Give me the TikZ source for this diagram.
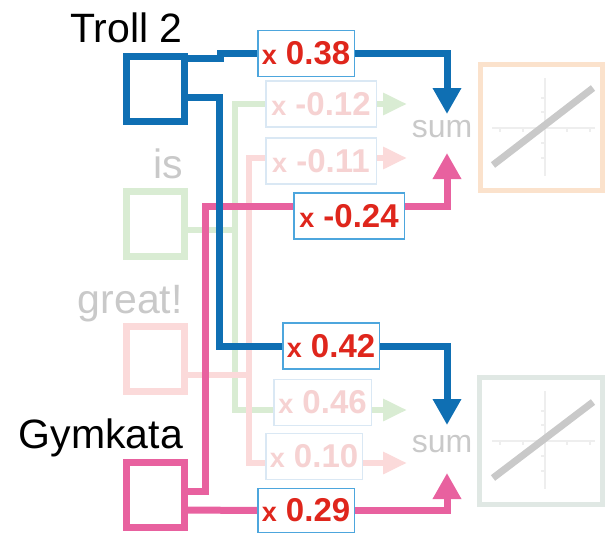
\documentclass[tikz,border=0pt]{standalone}
\usepackage{fontspec}
\setmainfont{Liberation Sans}
\usetikzlibrary{arrows.meta}

\definecolor{tblue}{HTML}{0F6FB3}
\definecolor{tpink}{HTML}{E8619F}
\definecolor{wred}{HTML}{DF261C}
\definecolor{wborder}{HTML}{4DA6DD}
\definecolor{fgreen}{HTML}{D9ECD3}
\definecolor{fpink}{HTML}{FBDADA}
\definecolor{ftext}{HTML}{F6D2D2}
\definecolor{fborder}{HTML}{DAE8F4}
\definecolor{lgray}{HTML}{C9C9C9}
\definecolor{frameA}{HTML}{FBE2CC}
\definecolor{frameB}{HTML}{E0E8E4}
\definecolor{axisc}{HTML}{EEEEEE}

\pgfdeclarelayer{wires}
\pgfsetlayers{wires,main}

\newcommand{\mulx}{{\fontsize{27}{27}\selectfont x}}

\tikzset{
  word/.style={anchor=base east, font=\fontsize{41}{43}\selectfont, inner sep=0pt},
  inbox/.style={draw, line width=7pt, minimum width=58pt, minimum height=65pt,
                inner sep=0pt, outer sep=0pt},
  wbox/.style={draw=wborder, fill=white, line width=1.5pt, minimum height=46pt,
               inner sep=0pt, outer sep=0pt, text=wred,
               font=\bfseries\fontsize{33}{33}\selectfont},
  fbox/.style={wbox, draw=fborder, text=ftext},
  bwire/.style={line width=7pt},
  fwire/.style={line width=6pt},
  bhead/.style={-{Triangle[length=26pt,width=27pt]}},
  fhead/.style={-{Triangle[length=24pt,width=21pt]}},
  sumtext/.style={anchor=base, text=lgray, font=\fontsize{32}{34}\selectfont, inner sep=0pt},
  actframe/.style={draw, line width=5pt, inner sep=0pt, outer sep=0pt},
  axis/.style={draw=axisc, line width=1.5pt},
  ramp/.style={draw=lgray, line width=7pt}
}

\begin{document}
\begin{tikzpicture}[x=1pt,y=-1pt]
\useasboundingbox (0,0) rectangle (606,536);

% input words
\node[word] (lblA) at (183,42) {Troll 2};
\node[word, text=lgray] (lblB) at (183,178) {is};
\node[word, text=lgray] (lblC) at (183,313) {great!};
\node[word] (lblD) at (183,448) {Gymkata};

% input boxes
\node[inbox, draw=tblue] (troll) at (155.5,89) {};
\node[inbox, draw=fgreen] (isbox) at (155.5,224) {};
\node[inbox, draw=fpink] (great) at (155.5,359) {};
\node[inbox, draw=tpink] (gym) at (155.5,495) {};

% weights
\node[wbox, minimum width=96.5pt] (w038) at (306,53.5) {\mulx{} 0.38};
\node[fbox, minimum width=110.5pt] (w012) at (321,104) {\mulx{} -0.12};
\node[fbox, minimum width=110.5pt] (w011) at (321,161) {\mulx{} -0.11};
\node[wbox, minimum width=110.5pt] (w024) at (349,216) {\mulx{} -0.24};
\node[wbox, minimum width=96.5pt] (w042) at (331,346) {\mulx{} 0.42};
\node[fbox, minimum width=97.5pt] (w046) at (322.5,402.5) {\mulx{} 0.46};
\node[fbox, minimum width=96.5pt] (w010) at (314,456.5) {\mulx{} 0.10};
\node[wbox, minimum width=96.5pt, minimum height=44pt] (w029) at (306,510.5) {\mulx{} 0.29};

% sums
\node[sumtext] (sumA) at (442,137) {sum};
\node[sumtext] (sumB) at (442,452) {sum};

% arrow end points in front of the sums
\coordinate (tA1) at (447,114);
\coordinate (tA2) at (447,153);
\coordinate (tB1) at (447,425);
\coordinate (tB2) at (447,473);
\coordinate (gA) at (407,104);
\coordinate (pA) at (407,158);
\coordinate (gB) at (407,410);
\coordinate (pB) at (407,463);

% activation panels
\node[actframe, draw=frameA, minimum width=122pt, minimum height=126pt] (actA) at (541.5,127.5) {};
\node[actframe, draw=frameB, minimum width=123pt, minimum height=127pt] (actB) at (541,441) {};

\foreach \yo in {0,313}{
  \draw[axis] (492,128+\yo) -- (595,128+\yo);
  \draw[axis] (545,78+\yo) -- (545,176+\yo);
  \foreach \tx in {500,523,567,590} \draw[axis] (\tx,128+\yo) -- (\tx,132+\yo);
  \foreach \ty in {98,112,143,158} \draw[axis] (545,\ty+\yo) -- (541,\ty+\yo);
}
\draw[ramp] (493,165) -- (593,88);
\draw[ramp] (493,478) -- (593,402);

\begin{pgfonlayer}{wires}
  % "is" branch
  \draw[fwire, fgreen] ([yshift=-6pt]isbox.east) -- (235,230);
  \draw[fwire, fgreen] (w012.west) -| (235,410) -- ([yshift=-7.5pt]w046.west);
  \draw[fwire, fgreen, fhead] (w012.east) -- (gA);
  \draw[fwire, fgreen, fhead] ([yshift=-7.5pt]w046.east) -- (gB);
  % "great!" branch
  \draw[fwire, fpink] ([yshift=-16pt]great.east) -- (249,375);
  \draw[fwire, fpink] ([yshift=3pt]w011.west) -| (249,463) -- ([yshift=-6.5pt]w010.west);
  \draw[fwire, fpink, fhead] ([yshift=3pt]w011.east) -- (pA);
  \draw[fwire, fpink, fhead] ([yshift=-6.5pt]w010.east) -- (pB);
  % "Gymkata" branch
  \draw[bwire, tpink] ([yshift=4pt]gym.east) -- (205,491) |- ([yshift=10pt]w024.west);
  \draw[bwire, tpink, bhead] ([yshift=10pt]w024.east) -| (tA2);
  \draw[bwire, tpink] ([yshift=-15pt]gym.east) -- (w029.west);
  \draw[bwire, tpink, bhead] (w029.east) -| (tB2);
  % "Troll 2" branch
  \draw[bwire, tblue] ([yshift=31pt]troll.east) -- (220,58) |- (w038.west);
  \draw[bwire, tblue, bhead] (w038.east) -| (tA1);
  \draw[bwire, tblue] ([yshift=-8.5pt]troll.east) -- (219,97.5) |- (w042.west);
  \draw[bwire, tblue, bhead] (w042.east) -| (tB1);
\end{pgfonlayer}
\end{tikzpicture}
\end{document}
